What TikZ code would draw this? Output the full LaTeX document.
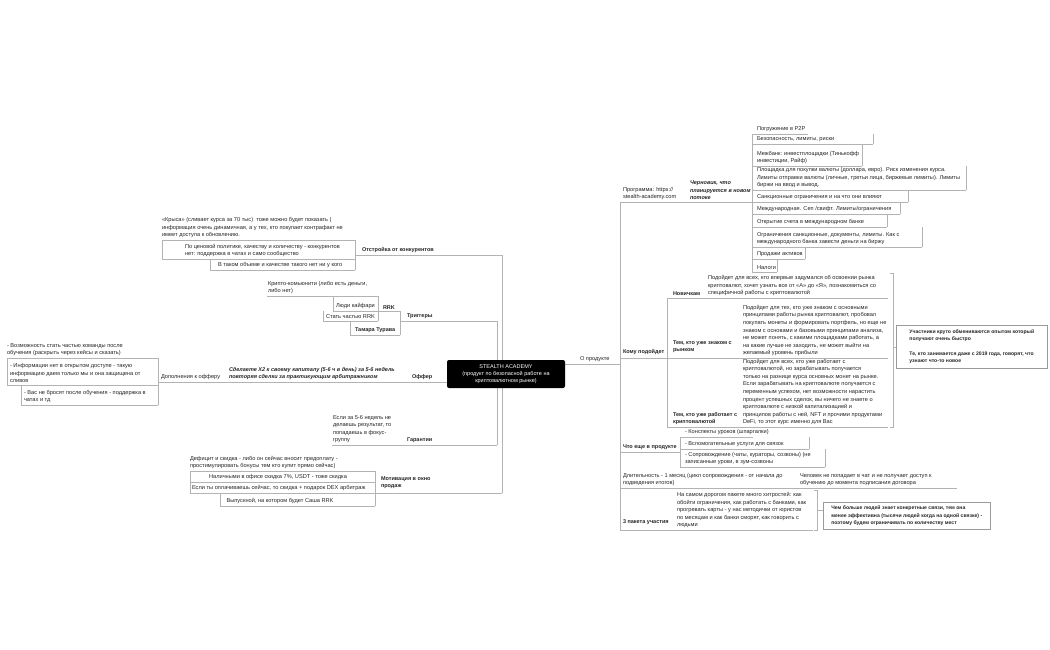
\documentclass[tikz,border=0pt]{standalone}
\usepackage{fontspec}
\setmainfont{Liberation Sans}
\definecolor{lc}{HTML}{B3B3B3}
\definecolor{tc}{HTML}{262626}
\definecolor{bc}{HTML}{9A9A9A}
\tikzset{
  ln/.style={draw=lc, line width=0.6pt},
  mmt/.style={font=\fontsize{5.65}{7.6}\selectfont, text=tc, inner sep=0pt, outer sep=0pt, align=left},
  mmb/.style={mmt, font=\fontsize{5.5}{7.6}\selectfont\bfseries},
  mmbi/.style={mmt, font=\fontsize{5.5}{7.6}\selectfont\bfseries\itshape},
  notebox/.style={draw=bc, line width=0.6pt, fill=white, inner sep=0pt, align=left, text=tc,
     font=\fontsize{5.1}{7.4}\selectfont\bfseries, anchor=north west},
  centernode/.style={fill=black, rounded corners=2pt, minimum width=118, minimum height=28,
     text=white, align=center, font=\fontsize{5.5}{7.2}\selectfont, inner sep=0pt}
}
\newcommand\Seg[4]{\coordinate (#1L) at (#2,#4);\coordinate (#1R) at (#3,#4);\draw[ln] (#1L) -- (#1R);}
\newcommand\Txt[5][mmt]{\node[anchor=south west,#1] (#2) at (#3,#4-2) {#5};}
\begin{document}
\begin{tikzpicture}[x=1pt,y=-1pt]
\useasboundingbox (0,0) rectangle (1050,650);
\fill[white] (0,0) rectangle (1050,650);

% ================= LEFT SIDE =================
\Seg{otst}{355}{502}{255}
\Seg{mot}{375}{502}{493}
\draw[ln] (otstR) -- (motR);
\Seg{trig}{400}{497}{321}
\Seg{gar}{400}{497}{445}
\draw[ln] (trigR) -- (garR);

% Otstroyka
\Txt[mmb]{otstT}{362}{255}{Отстройка от конкурентов}
\Seg{krys}{162}{355}{240}
\Txt{krysT}{162}{240}{«Крыса» (сливает курса за 70 тыс)\ \ тоже можно будет показать (\\информация очень динамичная, а у тех, кто покупает контрафакт не\\имеет доступа к обновлению.}
\Seg{cen}{162}{355}{259}
\Txt{cenT}{185}{259}{По ценовой политике, качеству и количеству - конкурентов\\нет: поддержка в чатах и само сообщество}
\Seg{vtak}{210}{355}{270}
\Txt{vtakT}{218}{270}{В таком объеме и качестве такого нет ни у кого}
\draw[ln] (krysR) -- (vtakR);
\draw[ln] (cenL) -- (krysL);
\draw[ln] (vtakL) -- (vtakL |- cenL);

% Triggers
\Txt[mmb]{trigT}{407}{321}{Триггеры}
\Seg{rrk}{378}{400}{311}
\Txt[mmb]{rrkT}{383}{311}{RRK}
\Seg{tam}{350}{400}{335}
\Txt[mmb]{tamT}{355}{335}{Тамара Турава}
\draw[ln] (rrkR) -- (tamR);
\draw[ln] (tamL) -- (tamL |- trigL);
\Seg{kri}{267}{378}{296}
\Txt{kriT}{268}{296}{Крипто-комьюнити (либо есть деньги,\\либо нет)}
\Seg{lyu}{333}{378}{311}
\Txt{lyuT}{336}{311}{Люди кайфари}
\Seg{sta}{323}{378}{321}
\Txt{staT}{326}{321}{Стать частью RRK}
\draw[ln] (kriR) -- (staR);
\draw[ln] (lyuL) -- (lyuL |- kriL);
\draw[ln] (staL) -- (staL |- lyuL);

% Offer
\Seg{off}{400}{447}{382}
\Txt[mmb]{offT}{412}{382}{Оффер}
\Seg{sde}{225}{400}{382}
\Txt[mmbi]{sdeT}{229}{382}{Сделаете X2 к своему капиталу (5-6 ч в день) за 5-6 недель\\повторяя сделки за практикующим арбитражником}
\Seg{dop}{158}{225}{382}
\Txt{dopT}{161}{382}{Дополнения к офферу}
\Seg{da}{7}{158}{358}
\Txt{daT}{7}{358}{- Возможность стать частью команды после\\обучения (раскрыть через кейсы и сказать)}
\Seg{db}{7}{158}{385}
\Txt{dbT}{10}{385}{- Информации нет в открытом доступе - такую\\информацию даем только мы и она защищена от\\сливов}
\Seg{dc}{21}{158}{405}
\Txt{dcT}{24}{405}{- Вас не бросят после обучения - поддержка в\\чатах и тд}
\draw[ln] (daR) -- (dcR);
\draw[ln] (dbL) -- (daL);
\draw[ln] (dcL) -- (dcL |- dbL);

% Guarantees
\Txt[mmb]{garT}{407}{445}{Гарантии}
\Seg{esl}{332}{400}{445}
\Txt{eslT}{333}{445}{Если за 5-6 недель не\\делаешь результат, то\\попадаешь в фокус-\\группу}

% Motivation
\Txt[mmb]{motT}{381}{491}{Мотивация в окно\\продаж}
\Seg{def}{190}{375}{471}
\Txt{defT}{190}{471}{Дефицит и скидка - либо он сейчас вносит предоплату -\\простимулировать бонусы тем кто купит прямо сейчас)}
\Seg{nalc}{190}{375}{482}
\Txt[mmt,anchor=south]{nalcT}{278}{482}{Наличными в офисе скидка 7\%, USDT - тоже скидка}
\Seg{opl}{190}{375}{493}
\Txt{oplT}{192}{493}{Если ты оплачиваешь сейчас, то скидка + подарок DEX арбитраж}
\Seg{vyp}{220}{375}{506}
\Txt[mmt,anchor=south]{vypT}{280}{506}{Выпускной, на котором будет Саша RRK}
\draw[ln] (defR) -- (vypR);
\draw[ln] (nalcL) -- (defL);
\draw[ln] (oplL) -- (nalcL);
\draw[ln] (vypL) -- (vypL |- oplL);

% ================= RIGHT SIDE =================
\Seg{opr}{565}{620}{364}
\Txt{oprT}{580}{364}{О продукте}
\Seg{prog}{620}{688}{202}
\Txt{progT}{623}{202}{Программа: https://\\stealth-academy.com}
\Seg{cher}{688}{752}{202}
\Txt[mmbi]{cherT}{690}{202}{Черновик, что\\планируется в новом\\потоке}
\Seg{pak}{620}{672}{530}
\draw[ln] (progL) -- (pakL);

% Chernovik children
\Seg{pa}{752}{808}{134}\Txt{paT}{757}{134}{Погружение в P2P}
\Seg{pb}{752}{873}{144}\Txt{pbT}{757}{144}{Безопасность, лимиты, риски}
\Seg{pc}{752}{862}{166}\Txt{pcT}{757}{166}{Межбанк: инвестплощадки (Тинькофф\\инвестиции, Райф)}
\Seg{pd}{752}{966}{190}\Txt{pdT}{757}{190}{Площадка для покупки валюты (доллара, евро). Риск изменения курса.\\Лимиты отправки валюты (личные, третьи лица, биржевые лимиты). Лимиты\\биржи на ввод и вывод.}
\Seg{pe}{752}{908}{202}\Txt{peT}{757}{202}{Санкционные ограничения и на что они влияют}
\Seg{pf}{752}{900}{214}\Txt{pfT}{757}{214}{Международная. Сеп /свифт. Лимиты/ограничения}
\Seg{pg}{752}{887}{227}\Txt{pgT}{757}{227}{Открытие счета в международном банке}
\Seg{ph}{752}{922}{247}\Txt{phT}{757}{247}{Ограничения санкционные, документы, лимиты. Как с\\международного банка завести деньги на биржу}
\Seg{pi}{752}{805}{259}\Txt{piT}{757}{259}{Продажи активов}
\Seg{pj}{752}{777}{272}\Txt{pjT}{757}{272}{Налоги}
\draw[ln] (paL) -- (pjL);
\draw[ln] (pbR) -- (pbR |- paR);
\draw[ln] (pcR) -- (pcR |- pbR);
\draw[ln] (pdR) -- (pdR |- pcR);
\draw[ln] (peR) -- (peR |- pdR);
\draw[ln] (pfR) -- (pfR |- peR);
\draw[ln] (pgR) -- (pgR |- pfR);
\draw[ln] (phR) -- (phR |- pgR);
\draw[ln] (piR) -- (piR |- phR);
\draw[ln] (pjR) -- (pjR |- piR);

% Komu podoydet
\Seg{kom}{620}{667}{358}
\Txt[mmb]{komT}{623}{357}{Кому подойдет}
\Seg{nov}{667}{705}{298}
\Txt[mmb]{novT}{673}{298}{Новичкам}
\Seg{novc}{705}{888}{298}
\Txt{novcT}{708}{298}{Подойдет для всех, кто впервые задумался об освоении рынка\\криптовалют, хочет узнать все от «А» до «Я», познакомиться со\\специфичной работы с криптовалютой}
\Seg{zn}{667}{740}{358}
\Txt[mmb]{znT}{673}{355}{Тем, кто уже знаком с\\рынком}
\Seg{znc}{740}{888}{358}
\Txt{zncT}{743}{358}{Подойдет для тех, кто уже знаком с основными\\принципами работы рынка криптовалют, пробовал\\покупать монеты и формировать портфель, но еще не\\знаком с основами и базовыми принципами анализа,\\не может понять, с какими площадками работать, а\\на какие лучше не заходить, не может выйти на\\желаемый уровень прибыли}
\Seg{rb}{667}{740}{427}
\Txt[mmb]{rbT}{673}{427}{Тем, кто уже работает с\\криптовалютой}
\Seg{rbc}{740}{888}{427}
\Txt{rbcT}{743}{427}{Подойдет для всех, кто уже работает с\\криптовалютой, но зарабатывать получается\\только на разнице курса основных монет на рынке.\\Если зарабатывать на криптовалюте получается с\\переменным успехом, нет возможности нарастить\\процент успешных сделок, вы ничего не знаете о\\криптовалюте с низкой капитализацией и\\принципов работы с ней, NFT и прочими продуктами\\DeFi, то этот курс именно для Вас}
\draw[ln] (novL) -- (rbL);
% summary bracket 1
\coordinate (bAt) at (893,273);
\coordinate (bAb) at (893,427);
\coordinate (bAm) at (893,347);
\draw[ln] (bAt) ++(-3,0) -- (bAt) -- (bAb) -- ++(-3,0);
\node[notebox, minimum width=151, minimum height=43] (boxA) at (896,325) {Участники круто обмениваются опытом который\\получают очень быстро\\[7.4pt]Те, кто занимается даже с 2019 года, говорят, что\\узнают что-то новое};
\draw[ln] (bAm) -- (boxA.west |- bAm);

% Chto eshche
\Seg{chto}{620}{680}{452}
\Txt[mmb]{chtoT}{623}{452}{Что еще в продукте}
\Seg{kon}{680}{753}{437}\Txt{konT}{685}{437}{- Конспекты уроков (шпаргалки)}
\Seg{vsp}{680}{809}{449}\Txt{vspT}{685}{449}{- Вспомогательные услуги для связок}
\Seg{sop}{680}{825}{467}\Txt{sopT}{685}{467}{- Сопровождение (чаты, кураторы, созвоны) (не\\записанные уроки, в зум-созвоны}
\draw[ln] (konL) -- (sopL);
\draw[ln] (vspR) -- (vspR |- konR);
\draw[ln] (sopR) -- (sopR |- vspR);

% Dlitelnost
\Seg{dl}{620}{797}{488}
\Txt{dlT}{623}{488}{Длительность - 1 месяц (цикл сопровождения - от начала до\\подведения итогов)}
\Seg{chel}{797}{957}{488}
\Txt{chelT}{800}{488}{Человек не попадает в чат и не получает доступ к\\обучению до момента подписания договора}

% 3 paketa
\Txt[mmb]{pakT}{623}{527}{3 пакета участия}
\Seg{pakc}{672}{813}{530}
\Txt{pakcT}{677}{530}{На самом дорогом пакете много хитростей: как\\обойти ограничения, как работать с банками, как\\прогревать карты - у нас методички от юристов\\по месяцам и как банки сморят, как говорить с\\людьми}
\coordinate (bBt) at (817,490);
\coordinate (bBb) at (817,530);
\coordinate (bBm) at (817,510);
\draw[ln] (bBt) ++(-3,0) -- (bBt) -- (bBb) -- ++(-3,0);
\node[notebox, minimum width=167, minimum height=27] (boxB) at (823,502) {Чем больше людей знает конкретные связи, тем она\\менее эффективна (тысячи людей когда на одной связке) -\\поэтому будем ограничивать по количеству мест};
\draw[ln] (bBm) -- (boxB.west |- bBm);

% ================= CENTER =================
\node[centernode] (c) at (506,374) {STEALTH ACADEMY\\(продукт по безопасной работе на\\криптовалютном рынке)};
\end{tikzpicture}
\end{document}
